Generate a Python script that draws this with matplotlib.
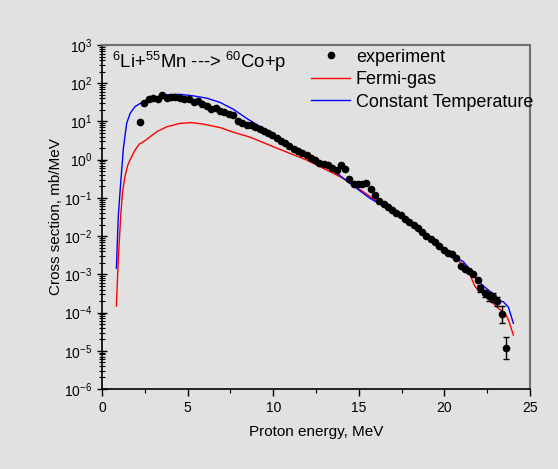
import numpy as np
import matplotlib
matplotlib.use('Agg')
import matplotlib.pyplot as plt
from matplotlib.ticker import LogLocator, MultipleLocator

plt.rcParams['font.family'] = ['Liberation Sans', 'DejaVu Sans']
plt.rcParams['mathtext.fontset'] = 'custom'
plt.rcParams['mathtext.rm'] = 'Liberation Sans'
plt.rcParams['mathtext.it'] = 'Liberation Sans'
plt.rcParams['axes.unicode_minus'] = False

# experiment (energy in MeV, log10 of cross section)
exp_e = [2.22, 2.47, 2.76, 3.00, 3.25, 3.50, 3.78, 4.03, 4.28, 4.56, 4.81, 5.06,
         5.35, 5.58, 5.86, 6.11, 6.37, 6.64, 6.89, 7.14, 7.42, 7.67, 7.92, 8.20,
         8.45, 8.70, 8.95, 9.20, 9.45, 9.70, 9.95, 10.20, 10.45, 10.70, 10.95,
         11.20, 11.45, 11.70, 11.95, 12.20, 12.45, 12.70, 12.95, 13.20, 13.45,
         13.70, 13.95, 14.20, 14.45, 14.70, 14.95, 15.20, 15.45, 15.70, 15.95,
         16.20, 16.45, 16.70, 16.95, 17.20, 17.45, 17.70, 17.95, 18.20, 18.45,
         18.70, 18.95, 19.20, 19.45, 19.70, 19.95, 20.20, 20.45, 20.70, 20.95,
         21.20, 21.45, 21.70, 21.95, 22.10, 22.35, 22.60, 22.86, 23.10, 23.35, 23.60]
exp_log = [0.99, 1.475, 1.58, 1.61, 1.59, 1.69, 1.61, 1.63, 1.63, 1.61, 1.60, 1.59,
           1.51, 1.54, 1.45, 1.41, 1.32, 1.34, 1.28, 1.24, 1.20, 1.18, 1.01, 0.95,
           0.92, 0.91, 0.86, 0.80, 0.75, 0.70, 0.64, 0.57, 0.50, 0.44, 0.36,
           0.28, 0.22, 0.17, 0.11, 0.05, -0.02, -0.08, -0.11, -0.13, -0.21,
           -0.27, -0.14, -0.24, -0.51, -0.64, -0.645, -0.64, -0.60, -0.78, -0.93,
           -1.07, -1.17, -1.25, -1.32, -1.40, -1.46, -1.54, -1.64, -1.72, -1.80,
           -1.90, -2.00, -2.08, -2.15, -2.26, -2.36, -2.43, -2.47, -2.58, -2.78,
           -2.87, -2.91, -2.99, -3.14, -3.37, -3.50, -3.57, -3.60, -3.70, -4.05, -4.92]
# error bars (log10 half width) on the last points
err_log = [0] * 79 + [0.08, 0.10, 0.12, 0.12, 0.12, 0.22, 0.29]

# Fermi-gas
fg_e = [0.84, 0.95, 1.09, 1.20, 1.34, 1.50, 1.64, 1.93, 2.18, 2.32, 2.61, 3.19,
        3.78, 4.56, 5.24, 5.92, 6.89, 7.67, 8.64, 10.0, 11.96, 13.9, 14.68,
        16.82, 18.5, 20.0, 20.5, 20.9, 21.5, 21.79, 22.08, 22.47, 22.76, 23.15,
        23.54, 23.75, 24.03]
fg_log = [-3.83, -2.62, -1.49, -0.85, -0.44, -0.15, 0.0, 0.25, 0.41, 0.44, 0.53, 0.73,
          0.86, 0.95, 0.97, 0.93, 0.84, 0.72, 0.59, 0.34, -0.01, -0.445, -0.66,
          -1.32, -1.83, -2.33, -2.54, -2.67, -3.02, -3.32, -3.45, -3.54, -3.72, -3.89,
          -4.02, -4.20, -4.59]

# Constant Temperature
ct_e = [0.84, 0.95, 1.09, 1.25, 1.44, 1.64, 1.93, 2.41, 3.00, 3.78, 4.56, 5.33,
        6.11, 6.89, 7.67, 8.45, 11.0, 13.12, 14.48, 15.65, 17.6, 19.55, 20.42,
        21.11, 21.5, 21.69, 21.88, 22.27, 22.86, 23.15, 23.45, 23.74, 24.03]
ct_log = [-2.84, -1.49, -0.62, 0.30, 0.95, 1.21, 1.39, 1.52, 1.63, 1.70, 1.71, 1.67,
          1.61, 1.50, 1.32, 1.08, 0.38, -0.14, -0.62, -1.01, -1.51, -2.19, -2.49,
          -2.67, -2.87, -2.97, -3.15, -3.30, -3.52, -3.69, -3.72, -3.86, -4.28]

exp_e = np.array(exp_e)
exp_v = 10 ** np.array(exp_log)
err = np.array(err_log)
lo = exp_v - 10 ** (np.array(exp_log) - err)
hi = 10 ** (np.array(exp_log) + err) - exp_v

bg = '#e1e1e1'
fig = plt.figure(figsize=(5.58, 4.69), dpi=100, facecolor=bg)
ax = fig.add_axes([0.1828, 0.1706, 0.767, 0.7334], facecolor=bg)

ax.plot(fg_e, 10 ** np.array(fg_log), color='#ff0000', lw=1, label='Fermi-gas')
ax.plot(ct_e, 10 ** np.array(ct_log), color='#0000ff', lw=1, label='Constant Temperature')
m = err > 0
ax.errorbar(exp_e[m], exp_v[m], yerr=[lo[m], hi[m]], fmt='none', ecolor='black',
            elinewidth=1, capsize=2, capthick=1)
ax.plot(exp_e, exp_v, 'o', color='black', ms=4.5, ls='none', label='experiment')

ax.set_yscale('log')
ax.set_xlim(0, 25)
ax.set_ylim(1e-6, 1e3)
ax.xaxis.set_major_locator(MultipleLocator(5))
ax.xaxis.set_minor_locator(MultipleLocator(2.5))
ax.yaxis.set_major_locator(LogLocator(base=10, numticks=20))
ax.yaxis.set_minor_locator(LogLocator(base=10, subs=np.arange(2, 10), numticks=20))
ax.tick_params(axis='x', which='major', direction='out', length=5, width=1, labelsize=10, top=False)
ax.tick_params(axis='x', which='minor', direction='out', length=3, width=0.8, top=False)
ax.tick_params(axis='y', which='major', direction='inout', length=7, width=1, labelsize=10, right=False)
ax.tick_params(axis='y', which='minor', direction='inout', length=4, width=0.8, right=False)

for s in ['top', 'right']:
    ax.spines[s].set_color('#707070')
    ax.spines[s].set_linewidth(1.5)
for s in ['left', 'bottom']:
    ax.spines[s].set_color('black')
    ax.spines[s].set_linewidth(1.2)

ax.set_xlabel('Proton energy, MeV', fontsize=11, labelpad=7)
ax.set_ylabel('Cross section, mb/MeV', fontsize=11, labelpad=1)

ax.text(0.023, 0.95, r'$^{6}$Li+$^{55}$Mn ---> $^{60}$Co+p', transform=ax.transAxes,
        fontsize=13.3, va='center', ha='left')

h, l = ax.get_legend_handles_labels()
order = [2, 0, 1]
ax.legend([h[i] for i in order], [l[i] for i in order], loc='upper left',
          bbox_to_anchor=(0.475, 1.005), frameon=False, fontsize=13,
          handlelength=2.2, handletextpad=0.3, labelspacing=0.3, borderaxespad=0,
          borderpad=0.3)

fig.savefig('out.png', dpi=100, facecolor=bg)
